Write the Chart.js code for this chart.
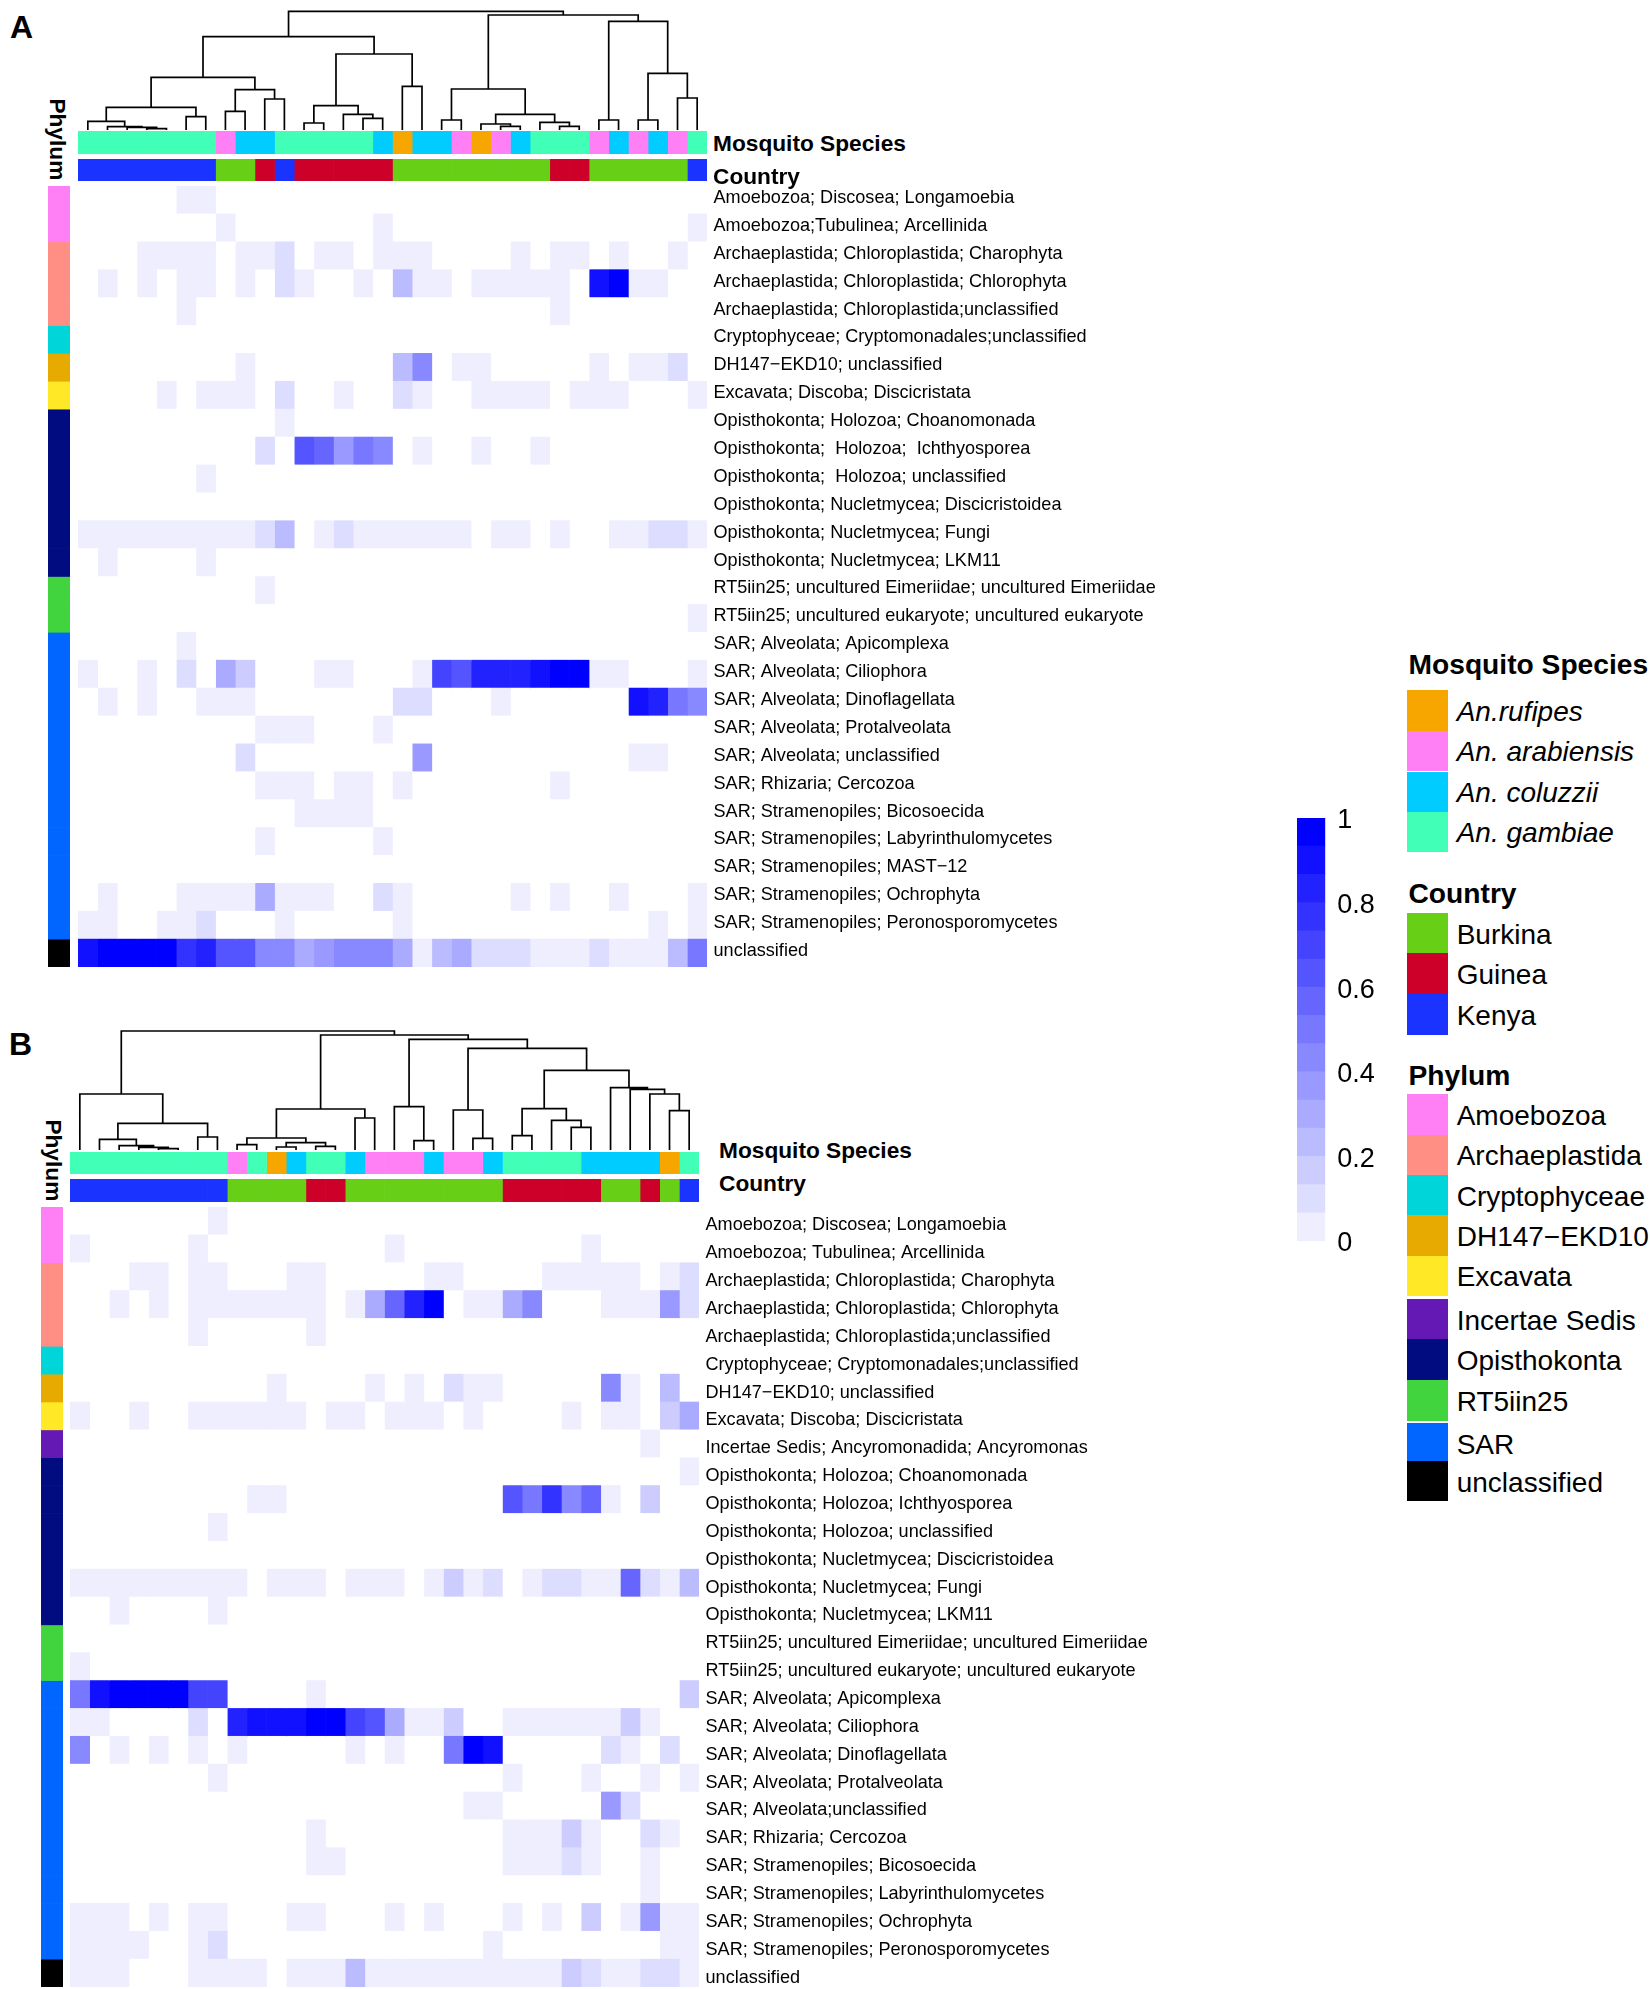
<!DOCTYPE html>
<html>
<head>
<meta charset="utf-8">
<title>Heatmaps</title>
<script src="https://cdn.jsdelivr.net/npm/chart.js@4"></script>
<style>
  html, body { margin: 0; background: #fff; }
  #page { position: relative; width: 1650px; height: 1989px; overflow: hidden; font-family: "Liberation Sans", Arial, sans-serif; color: #000; }
  #page canvas { position: absolute; }
  .txt { position: absolute; white-space: pre; line-height: 1; }
  .bold { font-weight: bold; }
  .swatch { position: absolute; }
</style>
</head>
<body>
<div id="page"></div>
<script>
// taxa on the rows
const taxaA = [
  'Amoebozoa; Discosea; Longamoebia',
  'Amoebozoa;Tubulinea; Arcellinida',
  'Archaeplastida; Chloroplastida; Charophyta',
  'Archaeplastida; Chloroplastida; Chlorophyta',
  'Archaeplastida; Chloroplastida;unclassified',
  'Cryptophyceae; Cryptomonadales;unclassified',
  'DH147\u2212EKD10; unclassified',
  'Excavata; Discoba; Discicristata',
  'Opisthokonta; Holozoa; Choanomonada',
  'Opisthokonta;  Holozoa;  Ichthyosporea',
  'Opisthokonta;  Holozoa; unclassified',
  'Opisthokonta; Nucletmycea; Discicristoidea',
  'Opisthokonta; Nucletmycea; Fungi',
  'Opisthokonta; Nucletmycea; LKM11',
  'RT5iin25; uncultured Eimeriidae; uncultured Eimeriidae',
  'RT5iin25; uncultured eukaryote; uncultured eukaryote',
  'SAR; Alveolata; Apicomplexa',
  'SAR; Alveolata; Ciliophora',
  'SAR; Alveolata; Dinoflagellata',
  'SAR; Alveolata; Protalveolata',
  'SAR; Alveolata; unclassified',
  'SAR; Rhizaria; Cercozoa',
  'SAR; Stramenopiles; Bicosoecida',
  'SAR; Stramenopiles; Labyrinthulomycetes',
  'SAR; Stramenopiles; MAST\u221212',
  'SAR; Stramenopiles; Ochrophyta',
  'SAR; Stramenopiles; Peronosporomycetes',
  'unclassified'
];
const taxaB = [
  'Amoebozoa; Discosea; Longamoebia',
  'Amoebozoa; Tubulinea; Arcellinida',
  'Archaeplastida; Chloroplastida; Charophyta',
  'Archaeplastida; Chloroplastida; Chlorophyta',
  'Archaeplastida; Chloroplastida;unclassified',
  'Cryptophyceae; Cryptomonadales;unclassified',
  'DH147\u2212EKD10; unclassified',
  'Excavata; Discoba; Discicristata',
  'Incertae Sedis; Ancyromonadida; Ancyromonas',
  'Opisthokonta; Holozoa; Choanomonada',
  'Opisthokonta; Holozoa; Ichthyosporea',
  'Opisthokonta; Holozoa; unclassified',
  'Opisthokonta; Nucletmycea; Discicristoidea',
  'Opisthokonta; Nucletmycea; Fungi',
  'Opisthokonta; Nucletmycea; LKM11',
  'RT5iin25; uncultured Eimeriidae; uncultured Eimeriidae',
  'RT5iin25; uncultured eukaryote; uncultured eukaryote',
  'SAR; Alveolata; Apicomplexa',
  'SAR; Alveolata; Ciliophora',
  'SAR; Alveolata; Dinoflagellata',
  'SAR; Alveolata; Protalveolata',
  'SAR; Alveolata;unclassified',
  'SAR; Rhizaria; Cercozoa',
  'SAR; Stramenopiles; Bicosoecida',
  'SAR; Stramenopiles; Labyrinthulomycetes',
  'SAR; Stramenopiles; Ochrophyta',
  'SAR; Stramenopiles; Peronosporomycetes',
  'unclassified'
];

// legend groups
const speciesNames = ['An.rufipes', 'An. arabiensis', 'An. coluzzii', 'An. gambiae'];
const speciesColors = ['#f7a600', '#ff80f5', '#00ccff', '#42ffb8'];
const countryNames = ['Burkina', 'Guinea', 'Kenya'];
const countryColors = ['#68cf17', '#cc0029', '#1a33ff'];
const phylumNames = ['Amoebozoa', 'Archaeplastida', 'Cryptophyceae', 'DH147\u2212EKD10', 'Excavata', 'Incertae Sedis', 'Opisthokonta', 'RT5iin25', 'SAR', 'unclassified'];
const phylumColors = ['#ff80f5', '#ff8f85', '#00d6d9', '#e6aa00', '#ffe926', '#6418b4', '#000c80', '#42d43f', '#0066ff', '#000000'];
const keySteps = [1, 2, 3, 4, 5, 6, 7, 8, 9, 10, 11, 12, 13, 14, 15];

// annotation strips: r = rufipes, a = arabiensis, c = coluzzii, g = gambiae / B, G, K = countries
const speciesA = ['g','g','g','g','g','g','g','a','c','c','g','g','g','g','g','c','r','c','c','a','r','a','c','g','g','g','a','c','a','c','a','g'];
const countryA = ['K','K','K','K','K','K','K','B','B','G','K','G','G','G','G','G','B','B','B','B','B','B','B','B','G','G','B','B','B','B','B','K'];
const speciesB = ['g','g','g','g','g','g','g','g','a','g','r','c','g','g','c','a','a','a','c','a','a','c','g','g','g','g','c','c','c','c','r','g'];
const countryB = ['K','K','K','K','K','K','K','K','B','B','B','B','G','G','B','B','B','B','B','B','B','B','G','G','G','G','G','B','B','G','B','K'];
const phylumA = [0,0,1,1,1,2,3,4,6,6,6,6,6,6,7,7,8,8,8,8,8,8,8,8,8,8,8,9];
const phylumB = [0,0,1,1,1,2,3,4,5,6,6,6,6,6,6,7,7,8,8,8,8,8,8,8,8,8,8,9];

const heatA = [
  [0,0,0,0,0,1,1,0, 0,0,0,0,0,0,0,0, 0,0,0,0,0,0,0,0, 0,0,0,0,0,0,0,0],
  [0,0,0,0,0,0,0,1, 0,0,0,0,0,0,0,1, 0,0,0,0,0,0,0,0, 0,0,0,0,0,0,0,1],
  [0,0,0,1,1,1,1,0, 1,1,2,0,1,1,0,1, 1,1,0,0,0,0,1,0, 1,1,0,1,0,0,1,0],
  [0,1,0,1,0,1,1,0, 1,0,2,1,0,0,1,0, 4,1,1,0,1,1,1,1, 1,0,14,15,1,1,0,0],
  [0,0,0,0,0,1,0,0, 0,0,0,0,0,0,0,0, 0,0,0,0,0,0,0,0, 1,0,0,0,0,0,0,0],
  [0,0,0,0,0,0,0,0, 0,0,0,0,0,0,0,0, 0,0,0,0,0,0,0,0, 0,0,0,0,0,0,0,0],
  [0,0,0,0,0,0,0,0, 1,0,0,0,0,0,0,0, 4,7,0,1,1,0,0,0, 0,0,1,0,1,1,2,0],
  [0,0,0,0,1,0,1,1, 1,0,2,0,0,1,0,0, 2,1,0,0,1,1,1,1, 0,1,1,1,0,0,0,1],
  [0,0,0,0,0,0,0,0, 0,0,1,0,0,0,0,0, 0,0,0,0,0,0,0,0, 0,0,0,0,0,0,0,0],
  [0,0,0,0,0,0,0,0, 0,2,0,10,9,6,8,7, 0,1,0,0,1,0,0,1, 0,0,0,0,0,0,0,0],
  [0,0,0,0,0,0,1,0, 0,0,0,0,0,0,0,0, 0,0,0,0,0,0,0,0, 0,0,0,0,0,0,0,0],
  [0,0,0,0,0,0,0,0, 0,0,0,0,0,0,0,0, 0,0,0,0,0,0,0,0, 0,0,0,0,0,0,0,0],
  [1,1,1,1,1,1,1,1, 1,2,4,0,1,2,1,1, 1,1,1,1,0,1,1,0, 1,0,0,1,1,2,2,1],
  [0,1,0,0,0,0,1,0, 0,0,0,0,0,0,0,0, 0,0,0,0,0,0,0,0, 0,0,0,0,0,0,0,0],
  [0,0,0,0,0,0,0,0, 0,1,0,0,0,0,0,0, 0,0,0,0,0,0,0,0, 0,0,0,0,0,0,0,0],
  [0,0,0,0,0,0,0,0, 0,0,0,0,0,0,0,0, 0,0,0,0,0,0,0,0, 0,0,0,0,0,0,0,1],
  [0,0,0,0,0,1,0,0, 0,0,0,0,0,0,0,0, 0,0,0,0,0,0,0,0, 0,0,0,0,0,0,0,0],
  [1,0,0,1,0,2,0,5, 3,0,0,0,1,1,0,0, 0,1,11,10,13,13,13,14, 15,15,1,1,0,0,0,1],
  [0,1,0,1,0,0,1,1, 1,0,0,0,0,0,0,0, 2,2,0,0,0,1,0,0, 0,0,0,0,14,13,8,7],
  [0,0,0,0,0,0,0,0, 0,1,1,1,0,0,0,1, 0,0,0,0,0,0,0,0, 0,0,0,0,0,0,0,0],
  [0,0,0,0,0,0,0,0, 2,0,0,0,0,0,0,0, 0,6,0,0,0,0,0,0, 0,0,0,0,1,1,0,0],
  [0,0,0,0,0,0,0,0, 0,1,1,1,0,1,1,0, 1,0,0,0,0,0,0,0, 1,0,0,0,0,0,0,0],
  [0,0,0,0,0,0,0,0, 0,0,0,1,1,1,1,0, 0,0,0,0,0,0,0,0, 0,0,0,0,0,0,0,0],
  [0,0,0,0,0,0,0,0, 0,1,0,0,0,0,0,1, 0,0,0,0,0,0,0,0, 0,0,0,0,0,0,0,0],
  [0,0,0,0,0,0,0,0, 0,0,0,0,0,0,0,0, 0,0,0,0,0,0,0,0, 0,0,0,0,0,0,0,0],
  [0,1,0,0,0,1,1,1, 1,5,1,1,1,0,0,2, 1,0,0,0,0,0,1,0, 1,0,0,1,0,0,0,1],
  [1,1,0,0,1,1,2,0, 0,0,1,0,0,0,0,0, 1,0,0,0,0,0,0,0, 0,0,0,0,0,1,0,1],
  [14,15,15,15,15,12,13,10, 10,7,7,5,6,7,7,7, 5,1,4,5,2,2,2,1, 1,1,2,1,1,1,4,8]
];
const heatB = [
  [0,0,0,0,0,0,0,1, 0,0,0,0,0,0,0,0, 0,0,0,0,0,0,0,0, 0,0,0,0,0,0,0,0],
  [1,0,0,0,0,0,1,0, 0,0,0,0,0,0,0,0, 1,0,0,0,0,0,0,0, 0,0,1,0,0,0,0,0],
  [0,0,0,1,1,0,1,1, 0,0,0,1,1,0,0,0, 0,0,1,1,0,0,0,0, 1,1,1,1,1,0,1,2],
  [0,0,1,0,1,0,1,1, 1,1,1,1,1,0,1,5, 9,13,15,0,1,1,5,7, 0,0,0,1,1,1,6,2],
  [0,0,0,0,0,0,1,0, 0,0,0,0,1,0,0,0, 0,0,0,0,0,0,0,0, 0,0,0,0,0,0,0,0],
  [0,0,0,0,0,0,0,0, 0,0,0,0,0,0,0,0, 0,0,0,0,0,0,0,0, 0,0,0,0,0,0,0,0],
  [0,0,0,0,0,0,0,0, 0,0,1,0,0,0,0,1, 0,1,0,2,1,1,0,0, 0,0,0,7,1,0,4,0],
  [1,0,0,1,0,0,1,1, 1,1,1,1,0,1,1,0, 1,1,1,0,1,0,0,0, 0,1,0,1,1,0,3,5],
  [0,0,0,0,0,0,0,0, 0,0,0,0,0,0,0,0, 0,0,0,0,0,0,0,0, 0,0,0,0,0,1,0,0],
  [0,0,0,0,0,0,0,0, 0,0,0,0,0,0,0,0, 0,0,0,0,0,0,0,0, 0,0,0,0,0,0,0,1],
  [0,0,0,0,0,0,0,0, 0,1,1,0,0,0,0,0, 0,0,0,0,0,0,10,8, 12,7,9,1,0,3,0,0],
  [0,0,0,0,0,0,0,1, 0,0,0,0,0,0,0,0, 0,0,0,0,0,0,0,0, 0,0,0,0,0,0,0,0],
  [0,0,0,0,0,0,0,0, 0,0,0,0,0,0,0,0, 0,0,0,0,0,0,0,0, 0,0,0,0,0,0,0,0],
  [1,1,1,1,1,1,1,1, 1,0,1,1,1,0,1,1, 1,0,1,3,1,2,0,1, 2,2,1,1,9,2,1,4],
  [0,0,1,0,0,0,0,1, 0,0,0,0,0,0,0,0, 0,0,0,0,0,0,0,0, 0,0,0,0,0,0,0,0],
  [0,0,0,0,0,0,0,0, 0,0,0,0,0,0,0,0, 0,0,0,0,0,0,0,0, 0,0,0,0,0,0,0,0],
  [1,0,0,0,0,0,0,0, 0,0,0,0,0,0,0,0, 0,0,0,0,0,0,0,0, 0,0,0,0,0,0,0,0],
  [8,14,15,15,15,15,11,11, 0,0,0,0,1,0,0,0, 0,0,0,0,0,0,0,0, 0,0,0,0,0,0,0,3],
  [1,1,0,0,0,0,2,0, 13,14,14,14,15,15,11,10, 5,1,1,3,0,0,1,1, 1,1,1,1,3,1,0,0],
  [7,0,1,0,1,0,1,0, 1,0,0,0,0,0,1,0, 1,0,0,8,15,14,0,0, 0,0,0,2,1,0,2,0],
  [0,0,0,0,0,0,0,1, 0,0,0,0,0,0,0,0, 0,0,0,0,0,0,1,0, 0,0,1,0,0,1,0,1],
  [0,0,0,0,0,0,0,0, 0,0,0,0,0,0,0,0, 0,0,0,0,1,1,0,0, 0,0,0,6,2,0,0,0],
  [0,0,0,0,0,0,0,0, 0,0,0,0,1,0,0,0, 0,0,0,0,0,0,1,1, 1,3,1,0,0,2,1,0],
  [0,0,0,0,0,0,0,0, 0,0,0,0,1,1,0,0, 0,0,0,0,0,0,1,1, 1,2,1,0,0,1,0,0],
  [0,0,0,0,0,0,0,0, 0,0,0,0,0,0,0,0, 0,0,0,0,0,0,0,0, 0,0,0,0,0,1,0,0],
  [1,1,1,0,1,0,1,1, 0,0,0,1,1,0,0,0, 1,0,1,0,0,0,1,0, 1,0,3,0,1,6,1,1],
  [1,1,1,1,0,0,1,2, 0,0,0,0,0,0,0,0, 0,0,0,0,0,1,0,0, 0,0,0,0,0,0,1,1],
  [1,1,1,0,0,0,1,1, 1,1,0,1,1,1,4,1, 1,1,1,1,1,1,1,1, 1,3,2,1,1,2,2,1]
];

// clustering trees, hclust style: [a, b, height], -n = column n, +n = merge n
const treeA = [
  [-4,-5,4], [-3,1,8], [-2,2,10], [-1,3,26], [-6,-7,40], [4,5,68], [-8,-9,56], [-10,-11,93],
  [7,8,121], [6,9,158], [-12,-13,21], [-15,-16,35], [-14,12,47], [11,13,73], [-17,-18,131], [14,15,228],
  [10,16,280], [-19,-20,30], [-22,-23,11], [-21,19,18], [-25,-26,11], [-24,21,23], [20,22,47], [18,23,123],
  [-27,-28,30], [-29,-30,30], [-31,-32,96], [26,27,170], [25,28,326], [24,29,345], [17,30,356]
];
const treeB = [
  [-5,-6,4], [-4,1,8], [-3,2,13], [-2,3,32], [-7,-8,39], [4,5,80], [-1,6,168], [-9,-10,16],
  [-11,-12,9], [-13,-14,11], [9,10,22], [8,11,36], [-15,-16,96], [12,13,123], [-18,-19,28], [-17,15,130],
  [-21,-22,35], [-20,17,120], [-23,-24,43], [-26,-27,68], [-25,20,89], [19,21,124], [-31,-32,118], [-30,23,168],
  [-29,24,182], [-28,25,187], [22,26,239], [18,27,305], [16,28,332], [14,29,345], [7,30,357]
];

Chart.defaults.font.family = '"Liberation Sans", Arial, sans-serif';
Chart.defaults.animation = false;
Chart.defaults.responsive = false;
Chart.defaults.plugins.legend.display = false;
Chart.defaults.plugins.tooltip.enabled = false;

const page = document.getElementById('page');
const COLS = 32;

function addCanvas(left, top, width, height) {
  const canvas = document.createElement('canvas');
  canvas.width = width;
  canvas.height = height;
  canvas.style.left = left + 'px';
  canvas.style.top = top + 'px';
  canvas.style.width = width + 'px';
  canvas.style.height = height + 'px';
  page.appendChild(canvas);
  return canvas;
}

function addText(text, left, centerY, size, extra) {
  const el = document.createElement('div');
  el.className = 'txt ' + (extra || '');
  el.textContent = text;
  el.style.left = left + 'px';
  el.style.top = (centerY - size / 2) + 'px';
  el.style.fontSize = size + 'px';
  page.appendChild(el);
  return el;
}

// white to blue, 15 steps
function stepColor(step) {
  if (!step) return '#ffffff';
  const c = Math.round(255 * (1 - step / 15));
  return `rgb(${c},${c},255)`;
}

function cellBar(colors) {
  return { data: colors.map(() => 1), backgroundColor: colors, borderWidth: 0, barPercentage: 1, categoryPercentage: 1 };
}

// the axis keeps room for half a label at each end, we don't want that here
function fixAxis(scale, width) {
  scale.width = width;
  scale.paddingTop = 0;
  scale.paddingBottom = 0;
}

// rows are categories, each column is one stacked dataset
function drawHeat(left, top, plotWidth, plotHeight, labelWidth, rows, labels, labelShift) {
  const datasets = [];
  for (let c = 0; c < COLS; c++) {
    datasets.push(cellBar(rows.map(r => stepColor(r[c]))));
  }
  new Chart(addCanvas(left, top - 4, plotWidth + labelWidth, plotHeight + 8), {
    type: 'bar',
    data: { labels: labels, datasets: datasets },
    options: {
      indexAxis: 'y',
      layout: { padding: { top: 4, bottom: 4 } },
      scales: {
        x: { stacked: true, display: false, min: 0, max: COLS },
        y: {
          stacked: true,
          position: 'right',
          grid: { display: false, drawTicks: false },
          border: { display: false },
          ticks: { autoSkip: false, crossAlign: 'near', padding: 6.5, labelOffset: labelShift, color: '#000', font: { size: 18.1 } },
          afterFit: scale => fixAxis(scale, labelWidth)
        }
      }
    }
  });
}

// one row of COLS coloured cells
function drawStrip(left, top, width, height, colors) {
  new Chart(addCanvas(left, top, width, height), {
    type: 'bar',
    data: { labels: [''], datasets: colors.map(col => cellBar([col])) },
    options: {
      indexAxis: 'y',
      scales: {
        x: { stacked: true, display: false, min: 0, max: colors.length },
        y: { stacked: true, display: false }
      }
    }
  });
}

// the phylum column left of the heatmap
function drawPhylumBar(left, top, width, height, groups) {
  new Chart(addCanvas(left, top, width, height), {
    type: 'bar',
    data: { labels: [''], datasets: groups.map(g => cellBar([phylumColors[g]])) },
    options: {
      scales: {
        x: { stacked: true, display: false },
        y: { stacked: true, display: false, reverse: true, min: 0, max: groups.length }
      }
    }
  });
}

function drawTree(left, top, width, height, maxHeight, merges) {
  const pos = [];
  const heights = [];
  const points = [];
  const place = n => n < 0 ? [-n - 0.5, 0] : [pos[n], heights[n]];
  merges.forEach((m, i) => {
    const [xa, ha] = place(m[0]);
    const [xb, hb] = place(m[1]);
    pos[i + 1] = (xa + xb) / 2;
    heights[i + 1] = m[2];
    points.push({ x: xa, y: ha }, { x: xa, y: m[2] }, { x: xb, y: m[2] }, { x: xb, y: hb }, { x: xb, y: null });
  });
  new Chart(addCanvas(left, top, width, height), {
    type: 'scatter',
    data: { datasets: [{ data: points, showLine: true, spanGaps: false, pointRadius: 0, borderColor: '#000', borderWidth: 1.7, borderCapStyle: 'square' }] },
    options: {
      scales: {
        x: { type: 'linear', display: false, min: 0, max: COLS },
        y: { type: 'linear', display: false, min: 0, max: maxHeight }
      }
    }
  });
}

function drawPanel(p) {
  const stripColors = (vals, names, colors) => vals.map(v => colors[names.indexOf(v)]);
  const speciesKeys = ['r', 'a', 'c', 'g'];
  const countryKeys = ['B', 'G', 'K'];
  drawTree(p.left, p.treeTop, p.width, p.treeBase - p.treeTop, (p.treeBase - p.treeTop) * 3, p.tree);
  drawStrip(p.left, p.speciesTop, p.width, 22.7, stripColors(p.species, speciesKeys, speciesColors));
  drawStrip(p.left, p.countryTop, p.width, 22.5, stripColors(p.country, countryKeys, countryColors));
  drawPhylumBar(p.barLeft, p.heatTop, 22, p.heatHeight, p.phylum);
  drawHeat(p.left, p.heatTop, p.width, p.heatHeight, 470, p.rows, p.labels, p.labelShift);
}

drawPanel({
  left: 77.6, width: 629.4, treeTop: 5.5, treeBase: 129.5,
  speciesTop: 131, countryTop: 158.7, heatTop: 186, heatHeight: 781.3, barLeft: 48.4, labelShift: -2,
  species: speciesA, country: countryA, phylum: phylumA, rows: heatA, labels: taxaA, tree: treeA
});
drawPanel({
  left: 69.8, width: 629.4, treeTop: 1026, treeBase: 1150,
  speciesTop: 1151.7, countryTop: 1179.2, heatTop: 1206.7, heatHeight: 780.4, barLeft: 41, labelShift: 4.5,
  species: speciesB, country: countryB, phylum: phylumB, rows: heatB, labels: taxaB, tree: treeB
});

// colour key
const keyPad = 16;
new Chart(addCanvas(1296.7, 818.3 - keyPad, 110, 423.1 + 2 * keyPad), {
  type: 'bar',
  data: {
    labels: [''],
    datasets: keySteps.map(s => ({ data: [1 / keySteps.length], backgroundColor: stepColor(s), borderWidth: 0, barPercentage: 1, categoryPercentage: 1 }))
  },
  options: {
    layout: { padding: { top: keyPad, bottom: keyPad } },
    scales: {
      x: { stacked: true, display: false },
      y: {
        stacked: true,
        position: 'right',
        min: 0,
        max: 1,
        grid: { display: false, drawTicks: false },
        border: { display: false },
        ticks: {
          stepSize: 0.2,
          crossAlign: 'near',
          padding: 12,
          labelOffset: 3,
          color: '#000',
          font: { size: 27 },
          callback: v => String(Math.round(v * 10) / 10)
        },
        afterFit: scale => fixAxis(scale, 110 - 28.3)
      }
    }
  }
});

// legends on the right
function addLegend(title, titleY, tops, names, colors, italic) {
  addText(title, 1408.5, titleY, 28.2, 'bold');
  names.forEach((name, i) => {
    const sw = document.createElement('div');
    sw.className = 'swatch';
    sw.style.left = '1407.3px';
    sw.style.top = tops[i] + 'px';
    sw.style.width = '40.4px';
    sw.style.height = (tops[i + 1] - tops[i] > 41 ? 40.5 : tops[i + 1] - tops[i]) + 'px';
    sw.style.background = colors[i];
    page.appendChild(sw);
    const t = addText(name, 1456.7, tops[i] + 21.5, 28);
    if (italic) t.style.fontStyle = 'italic';
  });
}
addLegend('Mosquito Species', 664.4, [690.3, 730.9, 771.5, 811.7, 851.7], speciesNames, speciesColors, true);
addLegend('Country', 893.5, [913, 953.4, 994, 1034.7], countryNames, countryColors, false);
addLegend('Phylum', 1075, [1094, 1134.7, 1175, 1215.3, 1255.7, 1299.3, 1339.3, 1380, 1423.3, 1461, 1501], phylumNames, phylumColors, false);

// panel text
addText('A', 10, 27, 32, 'bold');
addText('B', 9, 1044, 32, 'bold');
addText('Mosquito Species', 713, 143, 22.7, 'bold');
addText('Country', 713, 176.5, 22.7, 'bold');
addText('Mosquito Species', 719, 1150, 22.7, 'bold');
addText('Country', 719, 1183, 22.7, 'bold');

function addPhylumTitle(centerX, centerY) {
  const el = addText('Phylum', centerX, centerY, 22.7, 'bold');
  el.style.transform = 'translate(-50%, 0) rotate(90deg)';
}
addPhylumTitle(58, 139);
addPhylumTitle(54, 1160.5);
</script>
</body>
</html>
